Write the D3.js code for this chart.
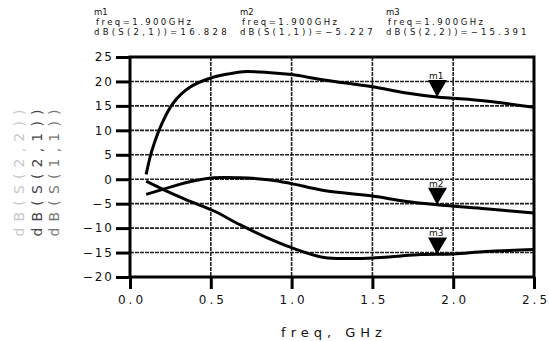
<!DOCTYPE html>
<html>
<head>
<meta charset="utf-8">
<script src="https://cdn.jsdelivr.net/npm/d3@7/dist/d3.min.js"></script>
<style>
  html, body { margin: 0; padding: 0; background: #fff; }
  svg { display: block; }
  text { font-family: "DejaVu Sans", sans-serif; fill: #111; }
</style>
</head>
<body>
<svg width="549" height="341"></svg>
<script>
// Frequency axis ticks (GHz) and dB ticks
const xTicks = [0.0, 0.5, 1.0, 1.5, 2.0, 2.5];
const yTicks = [25, 20, 15, 10, 5, 0, -5, -10, -15, -20];

// dB(S(2,1))
const freqS21 = [0.10, 0.135, 0.20, 0.27, 0.37, 0.50, 0.62, 0.70, 0.85, 1.00, 1.20, 1.50, 1.70, 1.90, 2.20, 2.50];
const s21 = [1.0, 5.8, 11.6, 15.7, 18.8, 20.7, 21.6, 22.0, 21.85, 21.4, 20.3, 18.9, 17.7, 16.83, 16.0, 14.7];

// dB(S(1,1))
const freqS11 = [0.10, 0.27, 0.37, 0.52, 0.68, 0.87, 1.00, 1.20, 1.50, 1.70, 1.90, 2.20, 2.50];
const s11 = [-3.1, -1.4, -0.5, 0.3, 0.3, -0.15, -0.9, -2.3, -3.45, -4.5, -5.23, -6.05, -6.9];

// dB(S(2,2))
const freqS22 = [0.10, 0.25, 0.37, 0.52, 0.68, 0.85, 1.00, 1.20, 1.40, 1.60, 1.80, 2.00, 2.20, 2.50];
const s22 = [-0.4, -2.8, -4.5, -6.5, -9.3, -12.0, -14.0, -16.0, -16.2, -15.9, -15.4, -15.3, -14.8, -14.4];

// Markers
const markerNames = ['m1', 'm2', 'm3'];
const markerFreq = 1.9;
const markerTraces = ['dB(S(2,1))', 'dB(S(1,1))', 'dB(S(2,2))'];
const markerValues = [16.828, -5.227, -15.391];

// y axis title lines, left to right
const yTitles = ['dB(S(2,2))', 'dB(S(2,1))', 'dB(S(1,1))'];

const svg = d3.select('svg');

const plotLeft = 130, plotRight = 534, plotTop = 57, plotBottom = 277;

const x = d3.scaleLinear().domain([0, 2.5]).range([plotLeft, plotRight]);
const y = d3.scaleLinear().domain([-20, 25]).range([plotBottom, plotTop]);

// grid
const grid = svg.append('g');
grid.selectAll('.hg')
  .data(yTicks)
  .enter().append('line')
    .attr('x1', plotLeft).attr('x2', plotRight)
    .attr('y1', d => y(d)).attr('y2', d => y(d))
    .attr('stroke', '#222').attr('stroke-width', 1.6)
    .attr('stroke-dasharray', '4,1');
grid.selectAll('.vg')
  .data(xTicks)
  .enter().append('line')
    .attr('y1', plotTop).attr('y2', plotBottom)
    .attr('x1', d => x(d)).attr('x2', d => x(d))
    .attr('stroke', '#222').attr('stroke-width', 1.6)
    .attr('stroke-dasharray', '4,1');

// axes
const yAxis = svg.append('g')
  .attr('transform', `translate(${plotLeft},0)`)
  .call(d3.axisLeft(y).tickValues(yTicks).tickSize(14).tickPadding(2).tickFormat(d3.format('d')));
const xAxis = svg.append('g')
  .attr('transform', `translate(0,${plotBottom})`)
  .call(d3.axisBottom(x).tickValues(xTicks).tickSize(12).tickPadding(6).tickFormat(d3.format('.1f')));

[yAxis, xAxis].forEach(ax => {
  ax.select('.domain').remove();
  ax.selectAll('.tick line').attr('stroke', '#000').attr('stroke-width', 3);
  ax.selectAll('.tick text')
    .attr('fill', '#111')
    .style('font-family', '"DejaVu Sans", sans-serif')
    .style('font-size', '12px');
});
yAxis.selectAll('.tick text').style('letter-spacing', '2px');
xAxis.selectAll('.tick text').style('letter-spacing', '3px').attr('dx', '1.5px');

// frame
svg.append('rect')
  .attr('x', plotLeft).attr('y', plotTop)
  .attr('width', plotRight - plotLeft).attr('height', plotBottom - plotTop)
  .attr('fill', 'none').attr('stroke', '#000').attr('stroke-width', 3);

// traces
const line = d3.line()
  .x(d => x(d[0]))
  .y(d => y(d[1]))
  .curve(d3.curveCatmullRom.alpha(0.5));

[[freqS21, s21], [freqS11, s11], [freqS22, s22]].forEach(([f, v]) => {
  svg.append('path')
    .datum(f.map((fi, i) => [fi, v[i]]))
    .attr('d', line)
    .attr('fill', 'none')
    .attr('stroke', '#000')
    .attr('stroke-width', 3)
    .attr('stroke-linejoin', 'round');
});

// markers
markerValues.forEach((v, i) => {
  const mx = x(markerFreq), my = y(v);
  svg.append('path')
    .attr('d', `M${mx - 9},${my - 17} L${mx + 10},${my - 17} L${mx},${my} Z`)
    .attr('fill', '#000');
  svg.append('text')
    .attr('x', mx - 8).attr('y', my - 18)
    .style('font-size', '9px')
    .text(markerNames[i]);
});

// marker readouts
const headX = [94, 240, 386];
markerNames.forEach((name, i) => {
  const g = svg.append('g').style('font-size', '8.5px');
  g.append('text').attr('x', headX[i]).attr('y', 15).text(name);
  g.append('text').attr('x', headX[i] + 2).attr('y', 25)
    .attr('textLength', 95).attr('lengthAdjust', 'spacing')
    .text('freq=1.900GHz');
  const t = markerTraces[i] + '=' + d3.format('.3f')(markerValues[i]);
  g.append('text').attr('x', headX[i]).attr('y', 35)
    .attr('textLength', t.length * 7.8).attr('lengthAdjust', 'spacing')
    .text(t);
});

// y axis titles (rotated, reading upward)
const yTitleX = [24, 42, 59];
const yTitleFill = ['#c8c8c8', '#444', '#777'];
yTitles.forEach((t, i) => {
  svg.append('text')
    .attr('transform', `translate(${yTitleX[i]},173) rotate(-90)`)
    .attr('text-anchor', 'middle')
    .attr('textLength', 127).attr('lengthAdjust', 'spacing')
    .style('font-size', '14px')
    .style('fill', yTitleFill[i])
    .text(t);
});

// x axis title
svg.append('text')
  .attr('x', (plotLeft + plotRight) / 2 + 2).attr('y', 337)
  .attr('text-anchor', 'middle')
  .style('font-size', '13px')
  .style('letter-spacing', '5px')
  .text('freq, GHz');
</script>
</body>
</html>
